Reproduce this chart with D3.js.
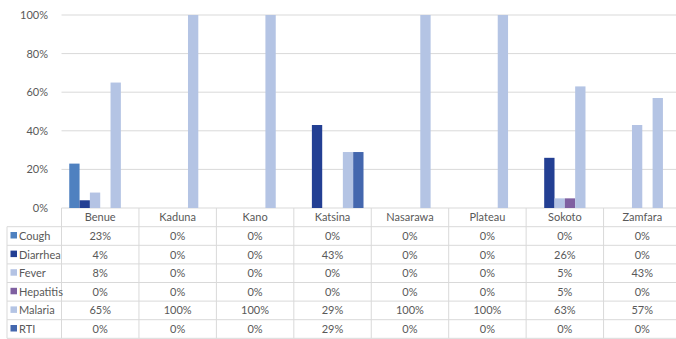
<!DOCTYPE html>
<html>
<head>
<meta charset="utf-8">
<script src="https://cdn.jsdelivr.net/npm/d3@7"></script>
<style>
  body { margin: 0; background: #fff; }
  text { font-family: Lato, "Open Sans", sans-serif; fill: #595959; }
</style>
</head>
<body>
<div id="chart"></div>
<script>
// Data
let states = ['Benue', 'Kaduna', 'Kano', 'Katsina', 'Nasarawa', 'Plateau', 'Sokoto', 'Zamfara'];
let diseases = ['Cough', 'Diarrhea', 'Fever', 'Hepatitis', 'Malaria', 'RTI'];
let cough     = [23, 0, 0, 0, 0, 0, 0, 0];
let diarrhea  = [4, 0, 0, 43, 0, 0, 26, 0];
let fever     = [8, 0, 0, 0, 0, 0, 5, 43];
let hepatitis = [0, 0, 0, 0, 0, 0, 5, 0];
let malaria   = [65, 100, 100, 29, 100, 100, 63, 57];
let rti       = [0, 0, 0, 29, 0, 0, 0, 0];
let yTicks = [0, 20, 40, 60, 80, 100];

let seriesValues = [cough, diarrhea, fever, hepatitis, malaria, rti];
let palette = {
	'Cough': '#4f81c0',
	'Diarrhea': '#233f93',
	'Fever': '#b4c3e4',
	'Hepatitis': '#7f60a1',
	'Malaria': '#b4c4e4',
	'RTI': '#4467ae'
};

let width = 676;
let height = 339;
let plotLeft = 61.5, plotRight = 681;
let plotTop = 15, plotBottom = 208;
let rowH = 18.6;
let headerBottom = 226.7;
let tableLeft = 7;

let svg = d3.select('#chart')
	.append('svg')
	.attr('width', width)
	.attr('height', height);

let x = d3.scaleBand()
	.domain(states)
	.range([plotLeft, plotRight]);

let x1 = d3.scaleBand()
	.domain(diseases)
	.range([0, x.bandwidth()])
	.paddingOuter(0.75);

let y = d3.scaleLinear()
	.domain([0, 100])
	.range([plotBottom, plotTop]);

// Gridlines
svg.append('g')
	.selectAll('line')
	.data(yTicks)
	.enter()
	.append('line')
	.attr('x1', plotLeft)
	.attr('x2', width)
	.attr('y1', d => y(d))
	.attr('y2', d => y(d))
	.attr('stroke', '#d9d9d9')
	.attr('stroke-width', 1);

// Y axis labels
let yAxis = d3.axisLeft(y)
	.tickValues(yTicks)
	.tickSize(0)
	.tickPadding(0)
	.tickFormat(d => d + '%');
let yg = svg.append('g')
	.attr('transform', 'translate(48,0)')
	.call(yAxis);
yg.select('.domain').remove();
yg.selectAll('text')
	.attr('font-size', 11)
	.style('font-family', 'Lato, "Open Sans", sans-serif')
	.attr('fill', '#595959');

// Bars
let flat = [];
diseases.forEach(function(s, i){
	states.forEach(function(c, j){
		flat.push({series: s, state: c, value: seriesValues[i][j]});
	});
});
svg.append('g')
	.selectAll('rect')
	.data(flat.filter(d => d.value > 0))
	.enter()
	.append('rect')
	.attr('x', d => x(d.state) + x1(d.series))
	.attr('y', d => y(d.value))
	.attr('width', x1.bandwidth())
	.attr('height', d => y(0) - y(d.value))
	.attr('fill', d => palette[d.series]);

// Data table
let table = svg.append('g');
let tableBottom = headerBottom + rowH * diseases.length;

// horizontal lines
for(let i = 0; i <= diseases.length; i++){
	table.append('line')
		.attr('x1', tableLeft)
		.attr('x2', width)
		.attr('y1', headerBottom + i * rowH)
		.attr('y2', headerBottom + i * rowH)
		.attr('stroke', '#d9d9d9');
}
// left border
table.append('line')
	.attr('x1', tableLeft)
	.attr('x2', tableLeft)
	.attr('y1', headerBottom)
	.attr('y2', tableBottom)
	.attr('stroke', '#d9d9d9');
// vertical separators
states.forEach(function(c){
	table.append('line')
		.attr('x1', x(c))
		.attr('x2', x(c))
		.attr('y1', plotBottom)
		.attr('y2', tableBottom)
		.attr('stroke', '#d9d9d9');
});

// header
table.selectAll('text.head')
	.data(states)
	.enter()
	.append('text')
	.attr('class', 'head')
	.text(d => d)
	.attr('x', d => x(d) + x.bandwidth() / 2)
	.attr('y', 221)
	.attr('text-anchor', 'middle')
	.attr('font-size', 11);

// rows
diseases.forEach(function(s, i){
	let cy = headerBottom + i * rowH + rowH / 2;
	table.append('rect')
		.attr('x', 10.5)
		.attr('y', cy - 4)
		.attr('width', 6.5)
		.attr('height', 6.5)
		.attr('fill', palette[s]);
	table.append('text')
		.text(s)
		.attr('x', 19)
		.attr('y', cy + 4)
		.attr('font-size', 11);
	states.forEach(function(c, j){
		table.append('text')
			.text(seriesValues[i][j] + '%')
			.attr('x', x(c) + x.bandwidth() / 2)
			.attr('y', cy + 4)
			.attr('text-anchor', 'middle')
			.attr('font-size', 11);
	});
});
</script>
</body>
</html>
